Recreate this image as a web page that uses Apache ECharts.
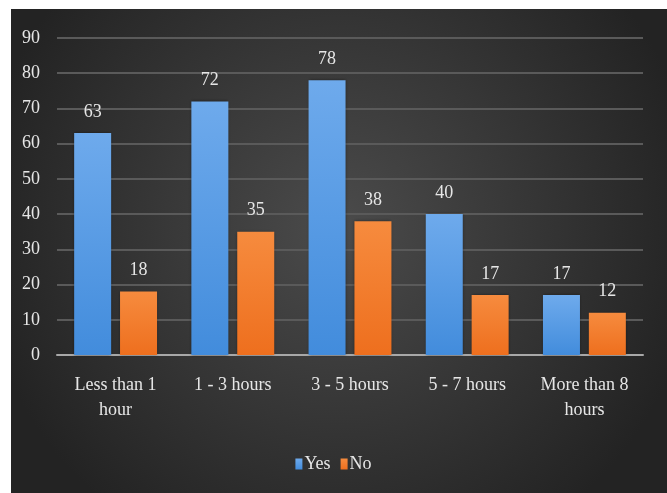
<!DOCTYPE html>
<html>
<head>
<meta charset="utf-8">
<script src="https://cdn.jsdelivr.net/npm/echarts@6/dist/echarts.min.js"></script>
<style>
  html, body { margin: 0; padding: 0; background: #ffffff; }
  #chart { width: 667px; height: 493px; }
</style>
</head>
<body>
<div id="chart"></div>
<script>
// Hours spent per day, split by answer
const categories = ['Less than 1\nhour', '1 - 3 hours', '3 - 5 hours', '5 - 7 hours', 'More than 8\nhours'];
const yesValues = [63, 72, 78, 40, 17];
const noValues = [18, 35, 38, 17, 12];
const yTicks = { min: 0, max: 90, interval: 10 };

const textColor = '#e6e6e6';
const font = '"Liberation Serif", "Times New Roman", serif';

function barFill(top, bottom) {
  return new echarts.graphic.LinearGradient(0, 0, 0, 1, [
    { offset: 0, color: top },
    { offset: 1, color: bottom }
  ]);
}

const chart = echarts.init(document.getElementById('chart'));
chart.setOption({
  backgroundColor: '#ffffff',
  textStyle: { fontFamily: font },
  graphic: [{
    type: 'rect',
    z: -10,
    silent: true,
    shape: { x: 11, y: 9, width: 656, height: 484 },
    style: {
      fill: new echarts.graphic.RadialGradient(0.5, 0.45, 0.75, [
        { offset: 0, color: '#4b4b4b' },
        { offset: 1, color: '#232323' }
      ])
    }
  }],
  grid: { left: 57, right: 24, top: 38, bottom: 138, containLabel: false },
  legend: {
    data: ['Yes', 'No'],
    bottom: 15,
    left: 'center',
    itemWidth: 7,
    itemHeight: 11,
    itemGap: 10,
    icon: 'rect',
    textStyle: { color: textColor, fontSize: 18, fontFamily: font, padding: [0, 0, 0, -3] }
  },
  xAxis: {
    type: 'category',
    data: categories,
    axisLine: { lineStyle: { color: '#a8a8a8', width: 2 } },
    axisTick: { show: false },
    axisLabel: { color: textColor, fontSize: 18, fontFamily: font, margin: 18, lineHeight: 25, interval: 0 }
  },
  yAxis: {
    type: 'value',
    min: yTicks.min,
    max: yTicks.max,
    interval: yTicks.interval,
    axisLine: { show: false },
    axisTick: { show: false },
    axisLabel: { color: textColor, fontSize: 18, fontFamily: font, margin: 17 },
    splitLine: { lineStyle: { color: '#5a5a5a', width: 2 } }
  },
  series: [
    {
      name: 'Yes',
      type: 'bar',
      data: yesValues,
      barWidth: 37,
      barGap: '24%',
      itemStyle: {
        color: barFill('#6eaaec', '#428cdc'),
        shadowColor: 'rgba(0,0,0,0.45)',
        shadowBlur: 3
      },
      label: { show: true, position: 'top', distance: 12, color: textColor, fontSize: 18, fontFamily: font }
    },
    {
      name: 'No',
      type: 'bar',
      data: noValues,
      barWidth: 37,
      itemStyle: {
        color: barFill('#f68b3e', '#ee6f1e'),
        shadowColor: 'rgba(0,0,0,0.45)',
        shadowBlur: 3
      },
      label: { show: true, position: 'top', distance: 12, color: textColor, fontSize: 18, fontFamily: font }
    }
  ]
});
</script>
</body>
</html>
